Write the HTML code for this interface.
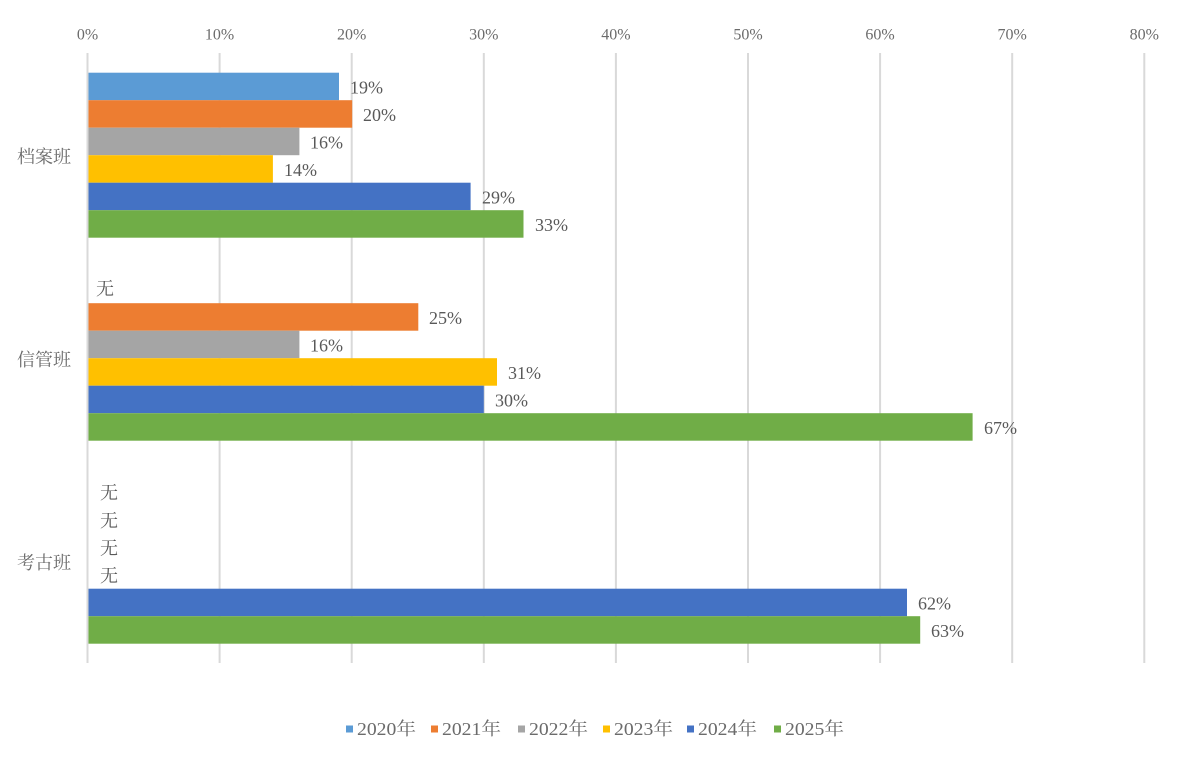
<!DOCTYPE html>
<html>
<head>
<meta charset="utf-8">
<style>
  html,body{margin:0;padding:0;background:#fff;}
  svg{display:block;}
  text{font-family:"Liberation Serif","Noto Serif CJK SC",serif;}
</style>
</head>
<body>
<svg width="1180" height="757" viewBox="0 0 1180 757" xmlns="http://www.w3.org/2000/svg">
  <rect width="1180" height="757" fill="#fff"/>
  <!-- gridlines -->
  <g stroke="#d9d9d9" stroke-width="2">
    <line x1="87.5" y1="53" x2="87.5" y2="663"/>
    <line x1="219.6" y1="53" x2="219.6" y2="663"/>
    <line x1="351.7" y1="53" x2="351.7" y2="663"/>
    <line x1="483.8" y1="53" x2="483.8" y2="663"/>
    <line x1="615.9" y1="53" x2="615.9" y2="663"/>
    <line x1="748" y1="53" x2="748" y2="663"/>
    <line x1="880.1" y1="53" x2="880.1" y2="663"/>
    <line x1="1012.2" y1="53" x2="1012.2" y2="663"/>
    <line x1="1144.3" y1="53" x2="1144.3" y2="663"/>
  </g>
  <!-- tick labels -->
  <g fill="#6b6b6b" font-size="16" text-anchor="middle" dominant-baseline="central">
    <text x="87.5" y="35">0%</text>
    <text x="219.6" y="35">10%</text>
    <text x="351.7" y="35">20%</text>
    <text x="483.8" y="35">30%</text>
    <text x="615.9" y="35">40%</text>
    <text x="748" y="35">50%</text>
    <text x="880.1" y="35">60%</text>
    <text x="1012.2" y="35">70%</text>
    <text x="1144.3" y="35">80%</text>
  </g>
  <!-- category labels -->
  <g fill="#6b6b6b" font-size="18" dominant-baseline="central">
    <text x="17" y="157">档案班</text>
    <text x="17" y="360">信管班</text>
    <text x="17" y="563">考古班</text>
  </g>
  <!-- bars 档案班 -->
  <rect x="88.5" y="72.7" width="250.5" height="27.5" fill="#5b9bd5"/>
  <rect x="88.5" y="100.2" width="263.7" height="27.5" fill="#ed7d31"/>
  <rect x="88.5" y="127.7" width="210.9" height="27.5" fill="#a5a5a5"/>
  <rect x="88.5" y="155.2" width="184.4" height="27.5" fill="#ffc000"/>
  <rect x="88.5" y="182.7" width="382.1" height="27.5" fill="#4472c4"/>
  <rect x="88.5" y="210.2" width="435" height="27.5" fill="#70ad47"/>
  <!-- bars 信管班 -->
  <rect x="88.5" y="303.2" width="329.8" height="27.5" fill="#ed7d31"/>
  <rect x="88.5" y="330.7" width="210.9" height="27.5" fill="#a5a5a5"/>
  <rect x="88.5" y="358.2" width="408.5" height="27.5" fill="#ffc000"/>
  <rect x="88.5" y="385.7" width="395.3" height="27.5" fill="#4472c4"/>
  <rect x="88.5" y="413.2" width="884.1" height="27.5" fill="#70ad47"/>
  <!-- bars 考古班 -->
  <rect x="88.5" y="588.7" width="818.5" height="27.5" fill="#4472c4"/>
  <rect x="88.5" y="616.2" width="831.7" height="27.5" fill="#70ad47"/>
  <!-- value labels -->
  <g fill="#595959" font-size="18" dominant-baseline="central">
    <text x="350" y="87.5">19%</text>
    <text x="363" y="115">20%</text>
    <text x="310" y="142.5">16%</text>
    <text x="284" y="170">14%</text>
    <text x="482" y="197.5">29%</text>
    <text x="535" y="225">33%</text>

    <text x="96" y="289">无</text>
    <text x="429" y="318">25%</text>
    <text x="310" y="345.5">16%</text>
    <text x="508" y="373">31%</text>
    <text x="495" y="400.5">30%</text>
    <text x="984" y="428">67%</text>

    <text x="100" y="493">无</text>
    <text x="100" y="521">无</text>
    <text x="100" y="548.5">无</text>
    <text x="100" y="576">无</text>
    <text x="918" y="603.5">62%</text>
    <text x="931" y="631">63%</text>
  </g>
  <!-- legend -->
  <g font-size="18" fill="#6b6b6b" dominant-baseline="central">
    <rect x="346" y="725.5" width="7" height="7" fill="#5b9bd5"/>
    <text x="357" y="729" textLength="59" lengthAdjust="spacingAndGlyphs">2020年</text>
    <rect x="431" y="725.5" width="7" height="7" fill="#ed7d31"/>
    <text x="442" y="729" textLength="59" lengthAdjust="spacingAndGlyphs">2021年</text>
    <rect x="518" y="725.5" width="7" height="7" fill="#a5a5a5"/>
    <text x="529" y="729" textLength="59" lengthAdjust="spacingAndGlyphs">2022年</text>
    <rect x="603" y="725.5" width="7" height="7" fill="#ffc000"/>
    <text x="614" y="729" textLength="59" lengthAdjust="spacingAndGlyphs">2023年</text>
    <rect x="687" y="725.5" width="7" height="7" fill="#4472c4"/>
    <text x="698" y="729" textLength="59" lengthAdjust="spacingAndGlyphs">2024年</text>
    <rect x="774" y="725.5" width="7" height="7" fill="#70ad47"/>
    <text x="785" y="729" textLength="59" lengthAdjust="spacingAndGlyphs">2025年</text>
  </g>
</svg>
</body>
</html>
